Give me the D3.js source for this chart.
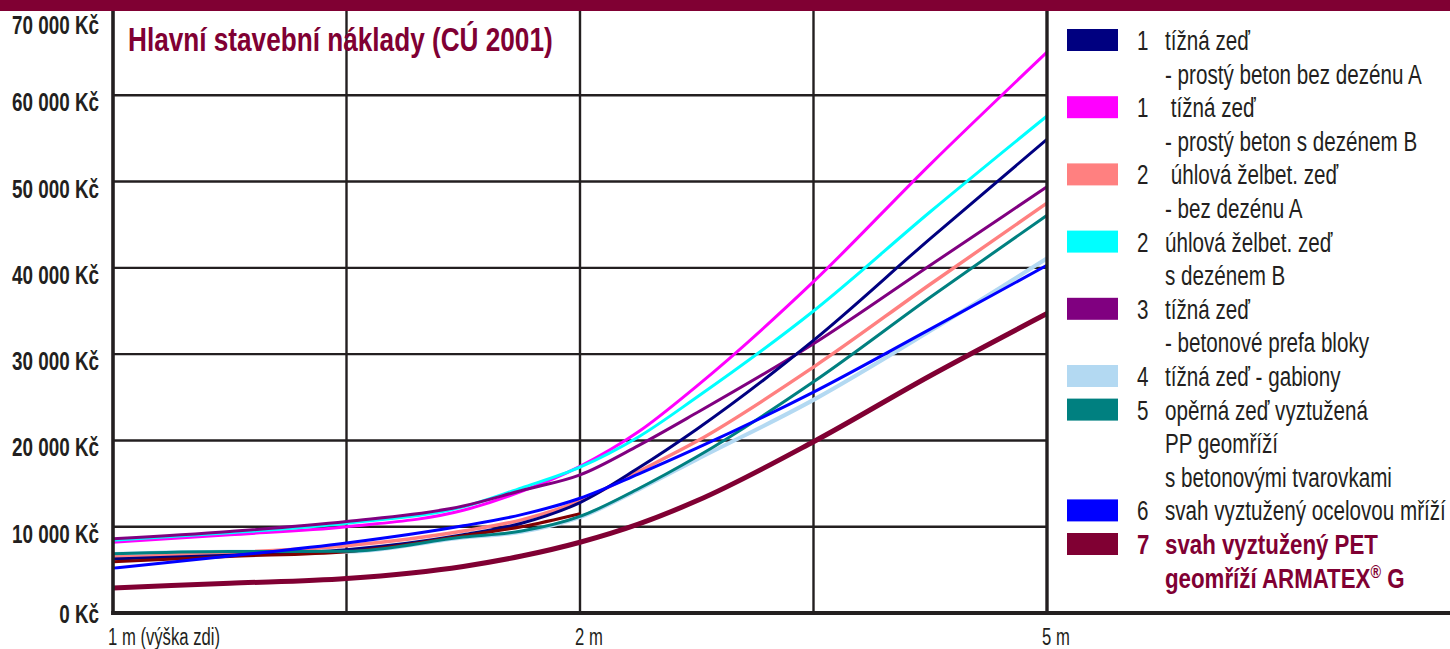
<!DOCTYPE html>
<html>
<head>
<meta charset="utf-8">
<script src="https://cdn.jsdelivr.net/npm/d3@7"></script>
<style>
  html, body { margin: 0; padding: 0; background: #ffffff; }
  svg { display: block; }
  text { font-family: "Liberation Sans", Arial, sans-serif; }
</style>
</head>
<body>
<svg id="chart" width="1450" height="649"></svg>
<script>
// ---------- DATA ----------
// positions along the x axis in grid steps (0 = 1 m, 2 = 2 m, 4 = 5 m)
const xSteps = [0, 0.5, 1, 1.5, 1.75, 2, 2.25, 2.5, 3, 3.5, 4];
const xTickSteps = [0, 2, 4];
const xTickLabels = ["1 m (výška zdi)", "2 m", "5 m"];
const yTicks = [0, 10000, 20000, 30000, 40000, 50000, 60000, 70000];

// values in thousands of Kč
const tiznaBezDezenu   = [6.25, 6.7, 7.33, 9.07, 10.4, 12.8, 16.8, 21.3, 31.6, 43.4, 54.9];
const tiznaSDezenem    = [8.2, 9.07, 10.0, 11.9, 14.1, 17.0, 21.0, 26.3, 38.4, 52.0, 65.0];
const uhlovaBezDezenu  = [6.5, 7.0, 7.8, 9.5, 10.8, 13.0, 16.4, 19.9, 28.5, 38.1, 47.5];
const uhlovaSDezenem   = [8.45, 9.3, 10.4, 12.3, 14.5, 16.9, 20.4, 25.0, 35.0, 46.5, 57.6];
const prefaBloky       = [8.6, 9.45, 10.6, 12.4, 14.2, 16.0, 19.4, 23.2, 31.2, 40.3, 49.4];
const gabiony          = [6.85, 7.1, 7.1, 8.75, 9.4, 11.1, 14.3, 17.8, 24.7, 32.7, 41.1];
const ppGeomriz        = [6.87, 7.13, 7.15, 8.8, 9.5, 11.2, 14.4, 18.1, 26.8, 36.6, 46.1];
const ocelovaMriz      = [5.2, 6.6, 8.1, 10.1, 11.4, 13.3, 16.1, 19.1, 25.6, 32.9, 40.3];
const armatex          = [2.9, 3.45, 4.0, 5.4, 6.6, 8.2, 10.3, 13.0, 19.85, 27.5, 34.7];
const extraLine        = [5.95, 6.56, 7.1, 8.95, 10.0, 11.5]; // unlabelled dark-red trace (1 m – 2 m)

const seriesNumbers = ["1", "1", "2", "2", "3", "4", "5", "6", "7"];
const seriesLabels = [
  ["tížná zeď", "- prostý beton bez dezénu A"],
  [" tížná zeď", "- prostý beton s dezénem B"],
  [" úhlová želbet. zeď", "- bez dezénu A"],
  ["úhlová želbet. zeď", "s dezénem B"],
  ["tížná zeď", "- betonové prefa bloky"],
  ["tížná zeď - gabiony"],
  ["opěrná zeď vyztužená", "PP geomříží", "s betonovými tvarovkami"],
  ["svah vyztužený ocelovou mříží"],
  ["svah vyztužený PET", "geomříží ARMATEX|® G"]
];
const seriesValues = [tiznaBezDezenu, tiznaSDezenem, uhlovaBezDezenu, uhlovaSDezenem,
                      prefaBloky, gabiony, ppGeomriz, ocelovaMriz, armatex];
const seriesColors = ["#000080", "#ff00ff", "#ff8080", "#00ffff", "#800080",
                      "#b3d9f2", "#008080", "#0000ff", "#800033"];
const seriesWidths = [3, 3, 3.4, 3, 3, 4, 3, 3, 5];
// drawing order (bottom to top); -1 = unlabelled trace
const drawOrder = [5, 1, 3, 4, 2, 0, -1, 6, 7, 8];

// ---------- CHART ----------
const svg = d3.select("#chart");
const W = 1450, H = 649;
const TXT = "#231f20";
const MAROON = "#800033";

const x = d3.scaleLinear().domain([0, 4]).range([113, 1047]);
const y = d3.scaleLinear().domain([0, 70000]).range([613, 9]);

// horizontally condense a group of texts so that a reference text gets a target width
function condense(sel, refNode, targetWidth) {
  const w = refNode.getComputedTextLength();
  const f = targetWidth / w;
  sel.each(function () {
    const t = d3.select(this);
    const ax = +t.attr("x");
    t.attr("transform", `translate(${ax},0) scale(${f},1) translate(${-ax},0)`);
  });
}

// gridlines
svg.append("g").selectAll("line").data(yTicks.filter(v => v > 0)).join("line")
  .attr("x1", x(0)).attr("x2", x(4))
  .attr("y1", d => y(d)).attr("y2", d => y(d))
  .attr("stroke", TXT).attr("stroke-width", 2.4);
svg.append("g").selectAll("line").data([1, 2, 3]).join("line")
  .attr("x1", d => x(d)).attr("x2", d => x(d))
  .attr("y1", y(70000)).attr("y2", y(0))
  .attr("stroke", TXT).attr("stroke-width", 2.4);

// lines
const line = d3.line()
  .x((d, i) => x(xSteps[i]))
  .y(d => y(d * 1000))
  .curve(d3.curveMonotoneX);

const linesG = svg.append("g").attr("fill", "none").attr("stroke-linejoin", "round");
drawOrder.forEach(k => {
  if (k < 0) {
    linesG.append("path").attr("d", line(extraLine))
      .attr("stroke", "#800000").attr("stroke-width", 3);
  } else {
    linesG.append("path").attr("d", line(seriesValues[k]))
      .attr("stroke", seriesColors[k]).attr("stroke-width", seriesWidths[k]);
  }
});

// axes frame
svg.append("line").attr("x1", x(0)).attr("x2", x(0)).attr("y1", 0).attr("y2", y(0) + 2)
  .attr("stroke", TXT).attr("stroke-width", 3.6);
svg.append("line").attr("x1", x(4)).attr("x2", x(4)).attr("y1", 0).attr("y2", y(0) + 2)
  .attr("stroke", TXT).attr("stroke-width", 3.4);
svg.append("line").attr("x1", x(0) - 1.8).attr("x2", W).attr("y1", y(0)).attr("y2", y(0))
  .attr("stroke", TXT).attr("stroke-width", 4);

// top band
svg.append("rect").attr("x", 0).attr("y", 0).attr("width", W).attr("height", 11)
  .attr("fill", MAROON);

// y labels
const czk = d3.formatLocale({decimal: ",", thousands: " ", grouping: [3], currency: ["", " Kč"]});
const fmt = czk.format(",");
const yLab = svg.append("g").selectAll("text").data(yTicks).join("text")
  .attr("x", 99)
  .attr("y", d => Math.max(25, Math.min(614, y(d) + 7)))
  .attr("dy", "0.36em")
  .attr("text-anchor", "end")
  .attr("font-size", 25).attr("font-weight", "bold").attr("fill", TXT)
  .text(d => fmt(d) + " Kč");
condense(yLab, yLab.nodes()[yLab.size() - 1], 87);

// x labels
const xLab = svg.append("g").selectAll("text").data(xTickSteps).join("text")
  .attr("x", d => x(d) - 5)
  .attr("y", 645)
  .attr("font-size", 23).attr("fill", TXT)
  .text((d, i) => xTickLabels[i]);
condense(xLab, xLab.nodes()[0], 112);

// title
const title = svg.append("text").attr("x", 128).attr("y", 51)
  .attr("font-size", 33).attr("font-weight", "bold").attr("fill", MAROON)
  .text("Hlavní stavební náklady (CÚ 2001)");
condense(title, title.node(), 425);

// legend
const lg = svg.append("g");
const lineY0 = 40, lineStep = 33.6;
let row = 0;
const regTexts = [], boldTexts = [];
seriesLabels.forEach((lines, k) => {
  const cy = lineY0 + row * lineStep;
  const isLast = k === seriesLabels.length - 1;
  const col = isLast ? MAROON : TXT;
  const fw = isLast ? "bold" : "normal";
  lg.append("rect").attr("x", 1067).attr("y", cy - 11).attr("width", 51).attr("height", 22)
    .attr("fill", seriesColors[k]);
  const num = lg.append("text").attr("x", 1137).attr("y", cy).attr("dy", "0.36em")
    .attr("font-size", 28).attr("font-weight", fw).attr("fill", col)
    .text(seriesNumbers[k]);
  (isLast ? boldTexts : regTexts).push(num.node());
  lines.forEach((t, j) => {
    const ty = lineY0 + (row + j) * lineStep;
    const te = lg.append("text").attr("x", 1165).attr("y", ty).attr("dy", "0.36em")
      .attr("font-size", 28).attr("font-weight", fw).attr("fill", col)
      .style("white-space", "pre");
    if (t.includes("|")) {
      const parts = t.split("|");
      te.append("tspan").text(parts[0]);
      te.append("tspan").attr("font-size", 18).attr("baseline-shift", "super")
        .text(parts[1].charAt(0));
      te.append("tspan").text(parts[1].slice(1));
    } else {
      te.text(t);
    }
    (isLast ? boldTexts : regTexts).push(te.node());
  });
  row += lines.length;
});
const regSel = d3.selectAll(regTexts);
condense(regSel, regTexts.find(n => n.textContent === "- prostý beton bez dezénu A"), 257);
const boldSel = d3.selectAll(boldTexts);
condense(boldSel, boldTexts.find(n => n.textContent === "svah vyztužený PET"), 213);
</script>
</body>
</html>
